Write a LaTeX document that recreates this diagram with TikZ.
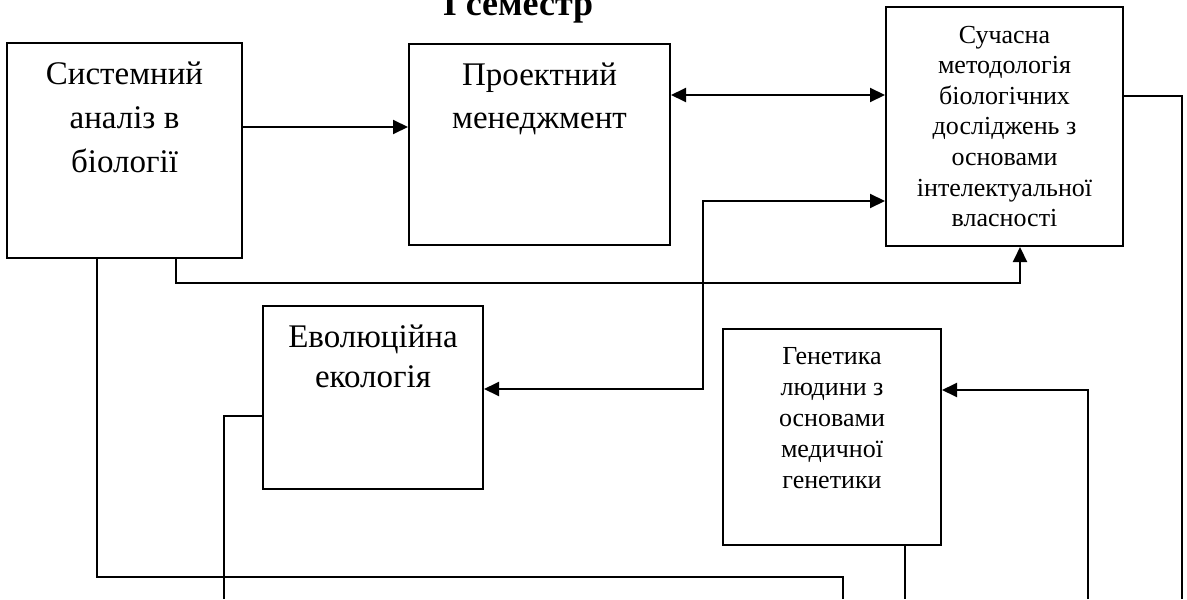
\documentclass[tikz,border=0pt]{standalone}
\usepackage{fontspec}
\setmainfont{Liberation Serif}
\usetikzlibrary{arrows.meta}
\tikzset{%
    blok/.style={draw, line width=1pt, inner sep=0pt},
    napys/.style={anchor=north, align=center, inner sep=0pt, yshift=-9.75pt},
    strilka/.style={-{Triangle[length=7.5pt,width=7pt]}, line width=1pt},
    dvi/.style={{Triangle[length=7.5pt,width=7pt]}-{Triangle[length=7.5pt,width=7pt]}, line width=1pt},
    liniya/.style={-, line width=1pt}
}

\begin{document}
\begin{tikzpicture}[x=0.5pt,y=-0.5pt]
    \useasboundingbox (0,0) rectangle (1187,599);
    \node[anchor=base, font=\bfseries\fontsize{18}{20}\selectfont] (title) at (518,16) {І семестр};
    % boxes
    \node[blok, minimum width=117.5pt, minimum height=107.5pt] (sa) at (124.5,150.5) {};
    \node[blok, minimum width=130.5pt, minimum height=100.5pt] (pm) at (539.5,144.5) {};
    \node[blok, minimum width=118.5pt, minimum height=119.5pt] (sm) at (1004.5,126.5) {};
    \node[blok, minimum width=110pt, minimum height=91.5pt] (ee) at (373,397.5) {};
    \node[blok, minimum width=109pt, minimum height=108pt] (gl) at (832,437) {};
    \node[napys, font=\fontsize{16.5}{22}\selectfont] (tsa) at (sa.north) {Системний\\аналіз в\\біології};
    \node[napys, font=\fontsize{16.5}{21.5}\selectfont] (tpm) at (pm.north) {Проектний\\менеджмент};
    \node[napys, font=\fontsize{13}{15.3}\selectfont] (tsm) at (sm.north) {Сучасна\\методологія\\біологічних\\досліджень з\\основами\\інтелектуальної\\власності};
    \node[napys, font=\fontsize{16.5}{20}\selectfont] (tee) at (ee.north) {Еволюційна\\екологія};
    \node[napys, font=\fontsize{13}{15.5}\selectfont] (tgl) at (gl.north) {Генетика\\людини з\\основами\\медичної\\генетики};
    % connectors
    \draw[strilka] (sa.east |- 0,127) -- (pm.west |- 0,127);
    \draw[dvi] (pm.east |- 0,95) -- (sm.west |- 0,95);
    \draw[liniya] (sm.east |- 0,96) -| (1182,599);
    \draw[strilka] (sa.south -| 176,0) |- (1020,283) -- (sm.south -| 1020,0);
    \draw[liniya] (sa.south -| 97,0) |- (843,577) -- (843,599);
    \draw[dvi] (ee.east |- 0,389) -| (703,201) -- (sm.west |- 0,201);
    \draw[liniya] (ee.west |- 0,416) -| (224,599);
    \draw[liniya] (gl.south -| 905,0) -- (905,599);
    \draw[strilka] (1088,599) |- (gl.east |- 0,390);
\end{tikzpicture}
\end{document}
